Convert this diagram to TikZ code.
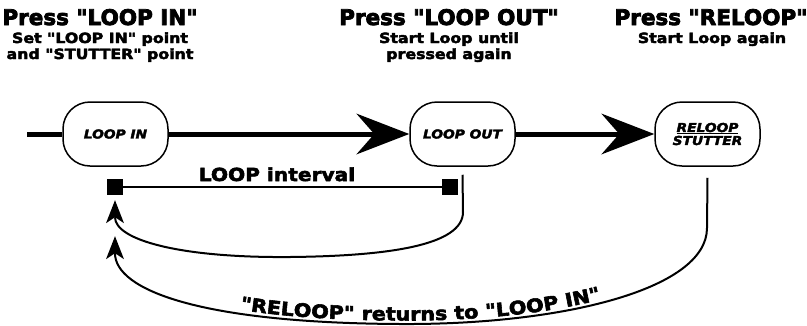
\documentclass[tikz,border=0pt]{standalone}
\usepackage{fontspec}
\usetikzlibrary{arrows.meta,decorations.text}
\newfontfamily\titlefont{DejaVu Sans}[BoldFont=* Bold,BoldFeatures={FakeBold=3.5}]
\newfontfamily\widefont{DejaVu Sans}[FakeStretch=1.12,BoldFont=* Bold,ItalicFont=* Oblique,BoldItalicFont=* Bold Oblique,BoldFeatures={FakeBold=3},BoldItalicFeatures={FakeBold=3}]
\newcommand\myul[1]{\setbox0=\hbox{#1}\rlap{\rule[-2.2pt]{\wd0}{1.1pt}}\box0}
\tikzset{
  state/.style={draw, line width=1.5pt, rounded corners=27pt, minimum width=105pt,
    minimum height=64pt, inner sep=0pt, align=center,
    font=\widefont\bfseries\itshape\fontsize{12.3}{13}\selectfont},
  titletxt/.style={anchor=base, inner sep=0pt, font=\titlefont\bfseries\fontsize{21.5}{24}\selectfont},
  subtxt/.style={anchor=base, inner sep=0pt, font=\widefont\bfseries\fontsize{14.1}{16}\selectfont},
  endsq/.style={fill=black, minimum size=16pt, inner sep=0pt},
  bigarrow/.style={line width=5pt, -{Stealth[length=53pt,width=41pt,inset=18pt,line width=0pt]}},
  backarrow/.style={line width=2pt, -{Stealth[length=23pt,width=18pt,inset=6pt,line width=0pt]}},
}
\begin{document}
\begin{tikzpicture}[x=1pt,y=-1pt]
\useasboundingbox (0,0) rectangle (807,325);
% titles
\node[titletxt] (t1) at (100,25) {Press "LOOP IN"};
\node[subtxt] (s1a) at (100,43) {Set "LOOP IN" point};
\node[subtxt] (s1b) at (100,59) {and "STUTTER" point};
\node[titletxt] (t2) at (449,25) {Press "LOOP OUT"};
\node[subtxt] (s2a) at (449,43) {Start Loop until};
\node[subtxt] (s2b) at (449,59) {pressed again};
\node[titletxt] (t3) at (711,25) {Press "RELOOP"};
\node[subtxt] (s3a) at (712,43) {Start Loop again};
% states
\node[state] (li) at (115.5,134) {LOOP IN};
\node[state] (lo) at (462.5,134) {LOOP OUT};
\node[state, font=\widefont\bfseries\itshape\fontsize{12.3}{13}\selectfont] (rl) at (707.5,134) {\myul{RELOOP}\\STUTTER};
% main line
\coordinate (start) at (27,134);
\draw[line width=5pt] (start) -- (li.west);
\draw[bigarrow] (li.east) -- (lo.west);
\draw[bigarrow] (lo.east) -- (rl.west);
% loop interval
\node[endsq] (sqa) at (115,187) {};
\node[endsq] (sqb) at (450,187) {};
\draw[line width=2pt] (sqa) -- (sqb);
\node[anchor=base, inner sep=0pt, font=\widefont\bfseries\fontsize{18}{20}\selectfont] (intv) at (277,181) {LOOP interval};
% return curves
\draw[backarrow] ([yshift=-8pt]lo.south) -- (463,212) .. controls (463,245) and (390,256) .. (290,257)
   .. controls (180,258) and (115,240) .. ([yshift=-5pt]sqa.south);
\draw[backarrow] ([yshift=-11pt]rl.south) -- (707,228) .. controls (707,290) and (560,325) .. (400,324)
   .. controls (200,323) and (115,290) .. ([yshift=-41pt]sqa.south);
\path[decorate, decoration={text along path, text align={left indent=158pt}, raise=3.5pt,
   text={|\widefont\bfseries\fontsize{18.5}{19}\selectfont|"RELOOP" returns to "LOOP IN"}}]
   (115,236) .. controls (115,290) and (200,323) .. (400,324) .. controls (560,325) and (707,290) .. (707,228);
\end{tikzpicture}
\end{document}
